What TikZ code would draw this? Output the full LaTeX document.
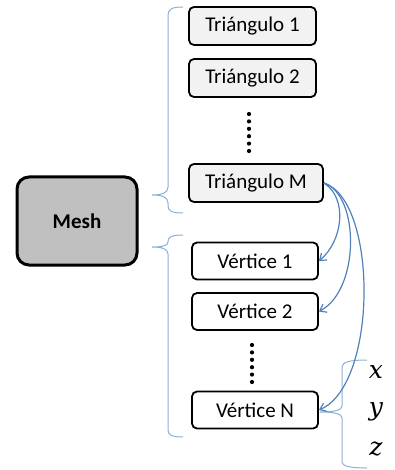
\documentclass[tikz,border=0pt]{standalone}
\usepackage{fontspec}
\setmainfont{Carlito}
\newfontfamily\coordfont{DejaVu Serif}
\usetikzlibrary{arrows.meta}
\definecolor{bracecol}{RGB}{140,175,215}
\definecolor{linkcol}{RGB}{79,129,189}
\definecolor{meshfill}{RGB}{192,192,192}
\definecolor{trifill}{RGB}{242,242,242}
\begin{document}
\begin{tikzpicture}[x=1pt,y=-1pt,
  meshbox/.style={draw=black,line width=3pt,rounded corners=12pt,fill=meshfill,
    minimum width=120pt,minimum height=88pt,inner sep=0pt,
    font=\fontsize{21}{24}\selectfont\bfseries},
  tribox/.style={draw=black,line width=1.8pt,rounded corners=5pt,fill=trifill,
    minimum height=38pt,inner sep=0pt,font=\fontsize{21}{24}\selectfont},
  vertbox/.style={draw=black,line width=1.8pt,rounded corners=5pt,fill=white,
    minimum width=126pt,minimum height=37pt,inner sep=0pt,font=\fontsize{21}{24}\selectfont},
  bracket/.style={draw=bracecol,line width=1pt},
  link/.style={draw=linkcol,line width=1.2pt,-{Straight Barb[length=6pt,width=9pt]}},
  coordlabel/.style={font=\coordfont\itshape\fontsize{25}{28}\selectfont,inner sep=0pt},
  dotmark/.style={fill=black,draw=none}
]
\useasboundingbox (0,0) rectangle (395,470);

% main object
\node[meshbox] (mesh) at (77,221) {Mesh};

% triangle list
\node[tribox,minimum width=127pt] (t1) at (252.5,26) {Triángulo 1};
\node[tribox,minimum width=127pt] (t2) at (252.5,78) {Triángulo 2};
\node[tribox,minimum width=134pt] (tm) at (256,183) {Triángulo M};

% vertex list
\node[vertbox] (v1) at (255,261) {Vértice 1};
\node[vertbox] (v2) at (255,311.5) {Vértice 2};
\node[vertbox] (vn) at (255,410) {Vértice N};

% ellipsis dots
\foreach \k in {0,...,5} {
  \fill[dotmark] (249,114+7.4*\k) circle (2.1pt);
  \fill[dotmark] (252,345+7.4*\k) circle (2.1pt);
}

% brace grouping the triangles
\draw[bracket] (183,7) .. controls (172,7) and (168,9) .. (168,16)
  -- (168,187) .. controls (168,193) and (162,195) .. (152,195)
  .. controls (162,195) and (168,197) .. (168,203)
  -- (168,206) .. controls (168,211) and (172,213) .. (183,213);

% brace grouping the vertices
\draw[bracket] (183,235) .. controls (172,235) and (168,237) .. (168,241)
  -- (168,242) .. controls (168,246) and (162,247) .. (152,247)
  .. controls (162,247) and (168,249) .. (168,254)
  -- (168,430) .. controls (168,435) and (172,437) .. (183,437);

% brace grouping the coordinates
\draw[bracket] (367,360) .. controls (350,360) and (342,362) .. (342,367)
  -- (342,406) .. controls (342,410) and (335,412) .. (320,412)
  .. controls (335,412) and (342,414) .. (342,418)
  -- (342,462) .. controls (342,466) and (350,468) .. (367,468);

\node[coordlabel] (cx) at (376,372) {x};
\node[coordlabel] (cy) at (376,412) {y};
\node[coordlabel] (cz) at (376,449) {z};

% references from the triangle to its vertices
\draw[link] (tm.east) .. controls (348,198) and (343,241) .. (v1.east);
\draw[link] (tm.east) .. controls (360,195) and (360,290) .. (v2.east);
\draw[link] (tm.east) .. controls (378,200) and (378,385) .. (vn.east);
\end{tikzpicture}
\end{document}
